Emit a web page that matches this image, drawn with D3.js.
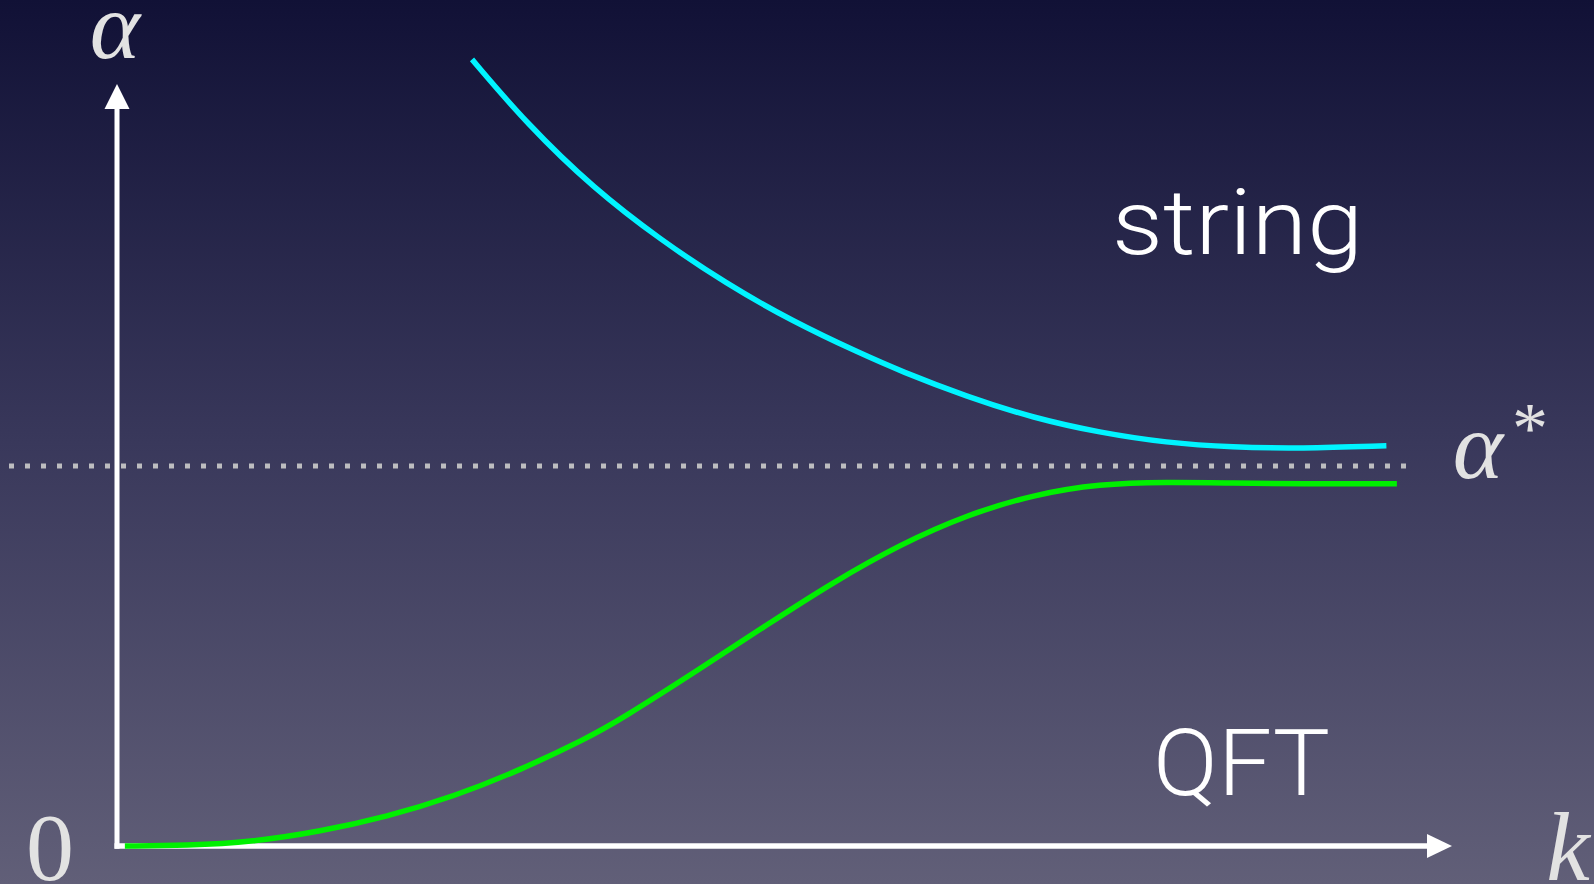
<!DOCTYPE html>
<html>
<head>
<meta charset="utf-8">
<script src="https://cdn.jsdelivr.net/npm/d3@7"></script>
<style>
  html, body { margin: 0; padding: 0; background: #14143a; }
  svg { display: block; }
</style>
</head>
<body>
<div id="chart"></div>
<script>
// string curve (k, alpha)
const kString = [2.71, 3.13, 3.64, 4.15, 4.65, 5.16, 5.67, 5.98, 6.49, 7.0, 7.5, 8.01, 8.52, 9.03, 9.69];
const alphaString = [2.07, 1.90, 1.73, 1.595, 1.48, 1.38, 1.297, 1.250, 1.182, 1.126, 1.088, 1.061, 1.049, 1.046, 1.053];

// QFT curve
const kQft = [0.06, 0.53, 1.04, 1.55, 2.06, 2.57, 3.08, 3.59, 3.84, 4.45, 4.96, 5.47, 5.98, 6.49, 7.0, 7.5, 8.01, 8.52, 9.03, 9.77];
const alphaQft = [0, 0.001, 0.011, 0.038, 0.077, 0.13, 0.2, 0.284, 0.332, 0.466, 0.582, 0.695, 0.794, 0.872, 0.925, 0.953, 0.958, 0.955, 0.953, 0.953];

// fixed point
const alphaStar = 1;

const kDomain = [0, 10];
const alphaDomain = [0, 2];

const W = 1594, H = 884;

const svg = d3.select("#chart").append("svg")
    .attr("width", W)
    .attr("height", H);

// background gradient
const defs = svg.append("defs");
const grad = defs.append("linearGradient")
    .attr("id", "bg")
    .attr("x1", 0).attr("y1", 0).attr("x2", 0).attr("y2", 1);
grad.append("stop").attr("offset", "0%").attr("stop-color", "#111136");
grad.append("stop").attr("offset", "50%").attr("stop-color", "#39385b");
grad.append("stop").attr("offset", "100%").attr("stop-color", "#615f78");

svg.append("rect")
    .attr("width", W).attr("height", H)
    .attr("fill", "url(#bg)");

const x = d3.scaleLinear().domain(kDomain).range([117, 1427]);
const y = d3.scaleLinear().domain(alphaDomain).range([846, 86]);

// dotted alpha* line
svg.append("line")
    .attr("x1", 9).attr("x2", 1406)
    .attr("y1", y(alphaStar)).attr("y2", y(alphaStar))
    .attr("stroke", "#bdbdc0")
    .attr("stroke-width", 5)
    .attr("stroke-dasharray", "5 11");

// axes
const axisColor = "#ffffff";
svg.append("line")
    .attr("x1", x(0)).attr("x2", x(0))
    .attr("y1", y(0) + 2.75).attr("y2", y(alphaDomain[1]) + 22)
    .attr("stroke", axisColor).attr("stroke-width", 5);
svg.append("line")
    .attr("x1", x(0) - 2.5).attr("x2", x(kDomain[1]))
    .attr("y1", y(0)).attr("y2", y(0))
    .attr("stroke", axisColor).attr("stroke-width", 5.5);

// arrow heads
const yTip = y(alphaDomain[1]) - 2;
svg.append("path")
    .attr("d", `M${x(0)},${yTip} L${x(0) - 12.5},${yTip + 25} L${x(0) + 12.5},${yTip + 25} Z`)
    .attr("fill", axisColor);
const xTip = x(kDomain[1]) + 25;
svg.append("path")
    .attr("d", `M${xTip},${y(0)} L${xTip - 25},${y(0) - 12} L${xTip - 25},${y(0) + 12} Z`)
    .attr("fill", axisColor);

// curves
const line = d3.line()
    .x(d => x(d[0]))
    .y(d => y(d[1]))
    .curve(d3.curveBasis);

svg.append("path")
    .datum(d3.zip(kString, alphaString))
    .attr("d", line)
    .attr("fill", "none")
    .attr("stroke", "#00f4ff")
    .attr("stroke-width", 5.5);

svg.append("path")
    .datum(d3.zip(kQft, alphaQft))
    .attr("d", line)
    .attr("fill", "none")
    .attr("stroke", "#00f000")
    .attr("stroke-width", 5.5);

// math labels
const mathFont = "'Liberation Serif', 'DejaVu Serif', serif";
const labelColor = "#e2e2e2";

svg.append("text")
    .attr("x", 115).attr("y", 58)
    .attr("text-anchor", "middle")
    .attr("font-family", mathFont)
    .attr("font-style", "italic")
    .attr("font-size", 96)
    .attr("fill", labelColor)
    .text("α");

svg.append("text")
    .attr("x", 50).attr("y", 880)
    .attr("text-anchor", "middle")
    .attr("font-family", mathFont)
    .attr("font-size", 96)
    .attr("fill", labelColor)
    .text("0");

svg.append("text")
    .attr("x", 1568).attr("y", 880)
    .attr("text-anchor", "middle")
    .attr("font-family", mathFont)
    .attr("font-style", "italic")
    .attr("font-size", 98)
    .attr("fill", labelColor)
    .text("k");

svg.append("text")
    .attr("x", 1478).attr("y", 478)
    .attr("text-anchor", "middle")
    .attr("font-family", mathFont)
    .attr("font-style", "italic")
    .attr("font-size", 96)
    .attr("fill", labelColor)
    .text("α");

svg.append("text")
    .attr("x", 1530).attr("y", 452)
    .attr("text-anchor", "middle")
    .attr("font-family", mathFont)
    .attr("font-size", 72)
    .attr("fill", labelColor)
    .text("*");

// curve names
const nameFont = "Roboto, 'Open Sans', 'Liberation Sans', sans-serif";

svg.append("text")
    .attr("x", 1112).attr("y", 254)
    .attr("font-family", nameFont)
    .attr("font-weight", 300)
    .attr("font-size", 91)
    .attr("textLength", 251)
    .attr("lengthAdjust", "spacingAndGlyphs")
    .attr("fill", "#ffffff")
    .text("string");

svg.append("text")
    .attr("x", 1153).attr("y", 795)
    .attr("font-family", nameFont)
    .attr("font-weight", 300)
    .attr("font-size", 93)
    .attr("textLength", 177)
    .attr("lengthAdjust", "spacingAndGlyphs")
    .attr("fill", "#ffffff")
    .text("QFT");
</script>
</body>
</html>
